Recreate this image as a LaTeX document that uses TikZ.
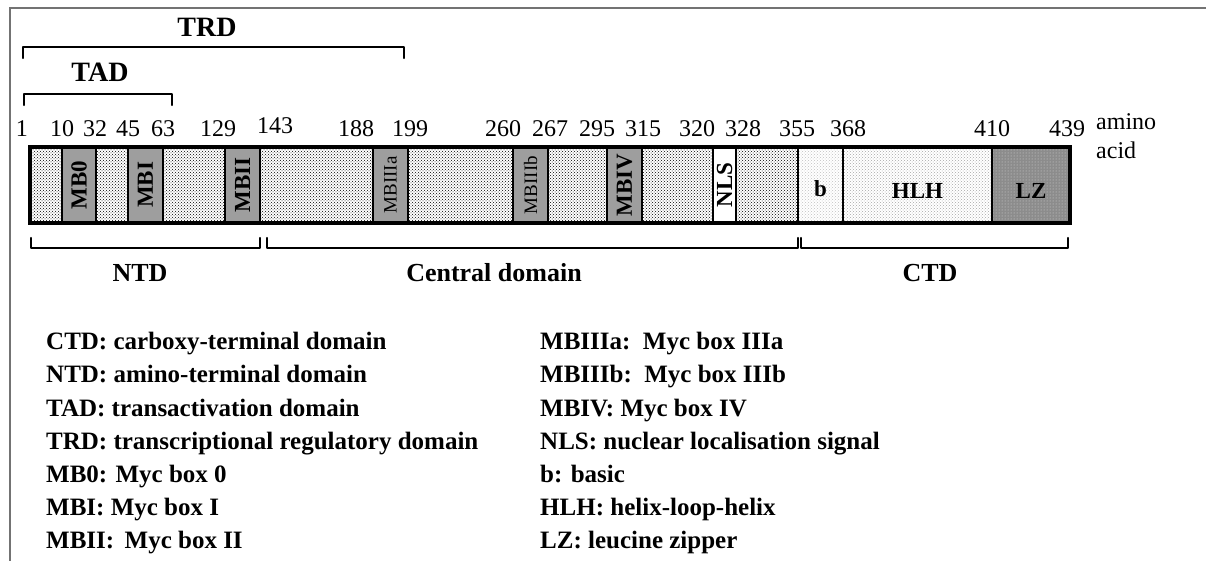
\documentclass[tikz,border=0pt]{standalone}
\usepackage{fontspec}
\setmainfont{Liberation Serif}
\usetikzlibrary{patterns}

\tikzset{
	linker/.style={draw=black, line width=2.4pt, fill=black!30, pattern=crosshatch dots, pattern color=black},
	mbox/.style={draw=black, line width=2.4pt, fill=black!38},
	bregion/.style={draw=black, line width=2.4pt, fill=white, pattern=crosshatch dots, pattern color=black!25},
	hlhregion/.style={draw=black, line width=2.4pt, fill=black!10, pattern=crosshatch dots, pattern color=black!35},
	lzregion/.style={draw=black, line width=2.4pt, fill=black!45},
	bracket/.style={line width=2.3pt, line cap=round, line join=round},
	numlab/.style={font=\fontsize{24}{26}\selectfont, inner sep=0pt},
	boxlab/.style={font=\fontsize{23}{24}\selectfont\bfseries, inner sep=0pt, rotate=90},
	thinlab/.style={font=\fontsize{19}{20}\selectfont, inner sep=0pt, rotate=90},
	domlab/.style={font=\fontsize{26}{28}\selectfont\bfseries, inner sep=0pt},
	keylab/.style={font=\fontsize{25}{27}\selectfont\bfseries, inner sep=0pt, anchor=base west}
}

\begin{document}
\begin{tikzpicture}[x=1pt, y=-1pt]
			%%%%% START %%%%%
			\useasboundingbox (0, 0) rectangle (1206, 561);
			
			% frame
			\draw[line width=1.2pt, color=black!55] (10, 561) -- (10, 8) -- (1206, 8);
			
			% TRD and TAD brackets
			\node[domlab, font=\fontsize{28}{30}\selectfont\bfseries] (trd) at (207, 27) {TRD};
			\draw[bracket] (23, 58) -- (23, 47) -- (404, 47) -- (404, 58);
			\node[domlab, font=\fontsize{28}{30}\selectfont\bfseries] (tad) at (100, 72) {TAD};
			\draw[bracket] (24, 105) -- (24, 94) -- (172, 94) -- (172, 105);
			
			% residue numbers
			\node[numlab] (n1) at (22, 129) {1};
			\node[numlab] (n10) at (62, 129) {10};
			\node[numlab] (n32) at (95, 129) {32};
			\node[numlab] (n45) at (128, 129) {45};
			\node[numlab] (n63) at (163, 129) {63};
			\node[numlab] (n129) at (218, 129) {129};
			\node[numlab] (n143) at (275, 126) {143};
			\node[numlab] (n188) at (356, 129) {188};
			\node[numlab] (n199) at (410, 129) {199};
			\node[numlab] (n260) at (503, 129) {260};
			\node[numlab] (n267) at (550, 129) {267};
			\node[numlab] (n295) at (597, 129) {295};
			\node[numlab] (n315) at (643, 129) {315};
			\node[numlab] (n320) at (697, 129) {320};
			\node[numlab] (n328) at (743, 129) {328};
			\node[numlab] (n355) at (797, 129) {355};
			\node[numlab] (n368) at (848, 129) {368};
			\node[numlab] (n410) at (992, 129) {410};
			\node[numlab] (n439) at (1067, 129) {439};
			\node[numlab, anchor=base west] (amino) at (1096, 130) {amino};
			\node[numlab, anchor=base west] (acid) at (1096, 159) {acid};
			
			% the protein bar
			\draw[linker] (30, 147) rectangle (62, 223);
			\draw[mbox] (62, 147) rectangle (96, 223);
			\draw[linker] (96, 147) rectangle (128, 223);
			\draw[mbox] (128, 147) rectangle (163, 223);
			\draw[linker] (163, 147) rectangle (225, 223);
			\draw[mbox] (225, 147) rectangle (260, 223);
			\draw[linker] (260, 147) rectangle (373, 223);
			\draw[mbox] (373, 147) rectangle (408, 223);
			\draw[linker] (408, 147) rectangle (513, 223);
			\draw[mbox] (513, 147) rectangle (548, 223);
			\draw[linker] (548, 147) rectangle (607, 223);
			\draw[mbox] (607, 147) rectangle (642, 223);
			\draw[linker] (642, 147) rectangle (713, 223);
			\draw[line width=2.4pt, fill=white] (713, 147) rectangle (736, 223);
			\draw[linker] (736, 147) rectangle (798, 223);
			\draw[bregion] (798, 147) rectangle (843, 223);
			\draw[hlhregion] (843, 147) rectangle (992, 223);
			\draw[lzregion] (992, 147) rectangle (1070, 223);
			\fill[pattern=dots, pattern color=white!85!black] (993, 148) rectangle (1069, 222);
			\draw[line width=4pt] (30, 147) rectangle (1070, 223);
			
			% box labels
			\node[boxlab] (mb0) at (79, 185) {MB0};
			\node[boxlab] (mbi) at (145.5, 185) {MBI};
			\node[boxlab] (mbii) at (242.5, 185) {MBII};
			\node[thinlab] (mbiiia) at (390.5, 185) {MBIIIa};
			\node[thinlab] (mbiiib) at (530.5, 185) {MBIIIb};
			\node[boxlab] (mbiv) at (624.5, 185) {MBIV};
			\node[boxlab] (nls) at (724.5, 185) {NLS};
			\node[boxlab, rotate=-90] (basic) at (820.5, 189) {b};
			\node[boxlab, rotate=-90] (hlh) at (917.5, 191) {HLH};
			\node[boxlab, rotate=-90] (lz) at (1031, 191) {LZ};
			
			% NTD, central domain and CTD brackets
			\draw[bracket] (31, 238) -- (31, 248) -- (260, 248) -- (260, 238);
			\draw[bracket] (267, 238) -- (267, 248) -- (798, 248) -- (798, 238);
			\draw[bracket] (801, 238) -- (801, 248) -- (1068, 248) -- (1068, 238);
			\node[domlab] (ntd) at (140, 273) {NTD};
			\node[domlab] (central) at (494, 273) {Central domain};
			\node[domlab] (ctd) at (930, 273) {CTD};
			
			% key
			\node[keylab] (k1) at (46, 349) {CTD: carboxy-terminal domain};
			\node[keylab] (k2) at (46, 382) {NTD: amino-terminal domain};
			\node[keylab] (k3) at (46, 416) {TAD: transactivation domain};
			\node[keylab] (k4) at (46, 449) {TRD: transcriptional regulatory domain};
			\node[keylab] (k5) at (46, 482) {MB0: Myc box 0};
			\node[keylab] (k6) at (46, 515) {MBI: Myc box I};
			\node[keylab] (k7) at (46, 548) {MBII: \,Myc box II};
			
			\node[keylab] (k8) at (540, 349) {MBIIIa: \,Myc box IIIa};
			\node[keylab] (k9) at (540, 382) {MBIIIb: \,Myc box IIIb};
			\node[keylab] (k10) at (540, 416) {MBIV: Myc box IV};
			\node[keylab] (k11) at (540, 449) {NLS: nuclear localisation signal};
			\node[keylab] (k12) at (540, 482) {b: basic};
			\node[keylab] (k13) at (540, 515) {HLH: helix-loop-helix};
			\node[keylab] (k14) at (540, 548) {LZ: leucine zipper};
			
			%%%%% END %%%%%
\end{tikzpicture}
\end{document}
